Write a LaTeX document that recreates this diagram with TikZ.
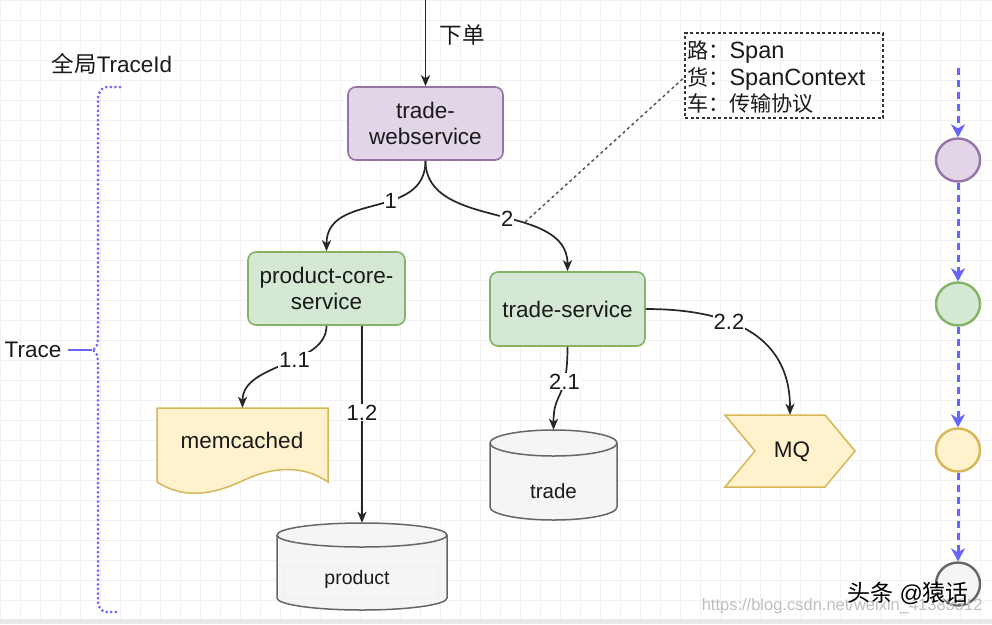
\documentclass[tikz,border=0pt]{standalone}
\usepackage{fontspec}
\setmainfont{Liberation Sans}
\newfontfamily\cjk[Scale=0.9]{Noto Sans CJK SC}
\newfontfamily\cjkfull{Noto Sans CJK SC}
\usetikzlibrary{arrows.meta,shapes.geometric,calc}
\definecolor{purF}{HTML}{E1D5E7}\definecolor{purD}{HTML}{9673A6}
\definecolor{grnF}{HTML}{D5E8D4}\definecolor{grnD}{HTML}{82B366}
\definecolor{yelF}{HTML}{FFF2CC}\definecolor{yelD}{HTML}{D6B656}
\definecolor{gryF}{HTML}{F5F5F5}\definecolor{gryD}{HTML}{666666}
\definecolor{blu}{HTML}{6666FF}
\definecolor{txt}{HTML}{1A1A1A}
\begin{document}
\begin{tikzpicture}[x=1pt,y=-1pt,
  gridc/.style={draw=black!5,line width=0.6pt},
  box/.style={draw,rounded corners=8pt,line width=1.6pt,minimum width=155pt,minimum height=73pt,align=center,inner sep=0pt,text=txt,font=\fontsize{22.5}{26}\selectfont},
  arr/.style={-{Stealth[length=11pt,width=9pt,inset=3pt]},line width=1.7pt,draw=black!85},
  lab/.style={fill=white,inner sep=1pt,text=txt,font=\fontsize{22}{24}\selectfont},
  txtf/.style={text=txt,font=\fontsize{22.5}{26}\selectfont},
  bluarr/.style={draw=blu,line width=3pt,dash pattern=on 7pt off 5pt,-{Stealth[length=13pt,width=14pt,inset=4pt]}},
  dotc/.style={ellipse,line width=2.4pt,minimum width=44pt,minimum height=43pt,inner sep=0pt},
  bracedot/.style={draw=blu,line width=3pt,line cap=round,dash pattern=on 0pt off 4.6pt},
  anchorbox/.style={inner sep=0pt}
]
\useasboundingbox (0,0) rectangle (992,624);
\fill[white] (0,0) rectangle (992,624);
\foreach \x in {0,20,...,980} \draw[gridc] (\x,0) -- (\x,624);
\foreach \y in {0,20,...,620} \draw[gridc] (0,\y) -- (992,\y);
\fill[black!9] (0,619) rectangle (992,624);

% main boxes
\node[box,fill=purF,draw=purD] (ws) at (425.5,123.5) {trade-\\webservice};
\node[box,fill=grnF,draw=grnD,minimum width=157pt] (pcs) at (326.5,288.5) {product-core-\\service};
\node[box,fill=grnF,draw=grnD,minimum height=74pt] (ts) at (567.5,309) {trade-service};

% memcached (document shape)
\node[anchorbox,minimum width=171pt,minimum height=84pt] (mem) at (242.5,450) {};
\filldraw[fill=yelF,draw=yelD,line width=1.5pt] (157,408) -- (328,408) -- (328,482)
  .. controls (300,463) and (270,468) .. (242,481)
  .. controls (214,494) and (185,500) .. (157,482) -- cycle;
\node[txtf] (memt) at (242,440) {memcached};

% product cylinder
\node[anchorbox,minimum width=170pt,minimum height=87pt] (prod) at (362,566.5) {};
\filldraw[fill=gryF,draw=gryD,line width=1.5pt] (277,535) -- (277,598)
  arc[start angle=180,end angle=360,x radius=85pt,y radius=12pt] -- (447,535)
  arc[start angle=0,end angle=180,x radius=85pt,y radius=12pt] -- cycle;
\draw[gryD,line width=1.5pt] (277,535) arc[start angle=180,end angle=360,x radius=85pt,y radius=12pt];
\draw[black!7,line width=0.8pt] (283,566) rectangle (438,598);
\node[txtf,font=\fontsize{19.5}{22}\selectfont] (prodt) at (357,579) {product};

% trade cylinder
\node[anchorbox,minimum width=127pt,minimum height=90pt] (trd) at (553.5,475) {};
\filldraw[fill=gryF,draw=gryD,line width=1.5pt] (490,443) -- (490,507)
  arc[start angle=180,end angle=360,x radius=63.5pt,y radius=13pt] -- (617,443)
  arc[start angle=0,end angle=180,x radius=63.5pt,y radius=13pt] -- cycle;
\draw[gryD,line width=1.5pt] (490,443) arc[start angle=180,end angle=360,x radius=63.5pt,y radius=13pt];
\node[txtf,font=\fontsize{20.5}{24}\selectfont] (trdt) at (553.5,491) {trade};

% MQ step shape
\node[anchorbox,minimum width=130pt,minimum height=72pt] (mq) at (790,451) {};
\filldraw[fill=yelF,draw=yelD,line width=1.5pt] (725,415) -- (825,415) -- (855,451) -- (825,487) -- (725,487) -- (755,451) -- cycle;
\node[txtf] (mqt) at (792,452) {MQ};

% top input
\coordinate (top) at (425.5,0);
\draw[arr] (top) -- (ws.north);
\node[txtf,anchor=west] (order) at (436,35) {\cjkfull 下单};

% edges
\draw[arr] (ws.south) .. controls +(0,60) and +(0,-60) .. node[lab,pos=0.4] (l1) {1} (pcs.north);
\draw[arr] (ws.south) .. controls +(0,70) and +(0,-70) .. node[lab,pos=0.55] (l2) {2} (ts.north);
\draw[arr] (pcs.south) .. controls +(0,40) and +(0,-45) .. node[lab,pos=0.42] (l11) {1.1} (mem.north);
\draw[arr] ([xshift=35.5pt]pcs.south) -- node[lab,pos=0.44] (l12) {1.2} (prod.north);
\draw[arr] (ts.south) .. controls +(0,55) and +(0,-40) .. node[lab,pos=0.3] (l21) {2.1} (trd.north);
\draw[arr] (ts.east) .. controls +(75,0) and +(0,-85) .. node[lab,pos=0.4] (l22) {2.2} (mq.north);

% note
\node[draw=black!80,line width=1.6pt,dash pattern=on 3pt off 2.5pt,minimum width=198pt,minimum height=85pt,inner sep=0pt] (note) at (784,75.5) {};
\node[anchor=west,align=left,inner sep=0pt,text=txt,font=\fontsize{23.5}{26.5}\selectfont] (notet) at (687,77.5)
  {{\cjk 路：}Span\\{\cjk 货：}SpanContext\\{\cjk 车：传输协议}};
\draw[black!65,line width=1.5pt,dash pattern=on 3pt off 3pt] ([shift={(10pt,-3pt)}]l2.east) -- ([yshift=-2pt]note.west);

% left brace
\node[txtf] (gid) at (112,64) {{\cjkfull 全局}TraceId};
\node[txtf] (tr) at (33,350) {Trace};
\draw[bracedot] (120,87) -- (108,87) .. controls (101,87) and (98,92) .. (98,100) -- (98,338)
  .. controls (98,345) and (96,349) .. (92,350) .. controls (96,351) and (98,355) .. (98,362)
  -- (98,600) .. controls (98,608) and (101,612) .. (108,612) -- (120,612);
\draw[blu,line width=1.8pt] (tr.east) ++(3pt,0) -- (92,350);

% right timeline
\coordinate (rtop) at (958,68);
\node[dotc,draw=purD,fill=purF] (c1) at (958,160) {};
\node[dotc,draw=grnD,fill=grnF] (c2) at (958,304) {};
\node[dotc,draw=yelD,fill=yelF] (c3) at (958,450) {};
\node[dotc,draw=gryD,fill=gryF] (c4) at (958,584) {};
\draw[bluarr] (rtop) -- (c1.north);
\draw[bluarr] (c1.south) -- (c2.north);
\draw[bluarr] (c2.south) -- (c3.north);
\draw[bluarr] (c3.south) -- (c4.north);

% watermark
\node[text=black!25,font=\fontsize{16.5}{20}\selectfont,anchor=east] (wm2) at (986,606) {https://blog.csdn.net/weixin\_41383512};
\node[text=white,font=\fontsize{23}{26}\selectfont] at (909.5,594.5) {{\cjkfull 头条} @{\cjkfull 猿话}};
\node[text=black,font=\fontsize{23}{26}\selectfont] (wm1) at (908,593) {{\cjkfull 头条} @{\cjkfull 猿话}};
\end{tikzpicture}
\end{document}
